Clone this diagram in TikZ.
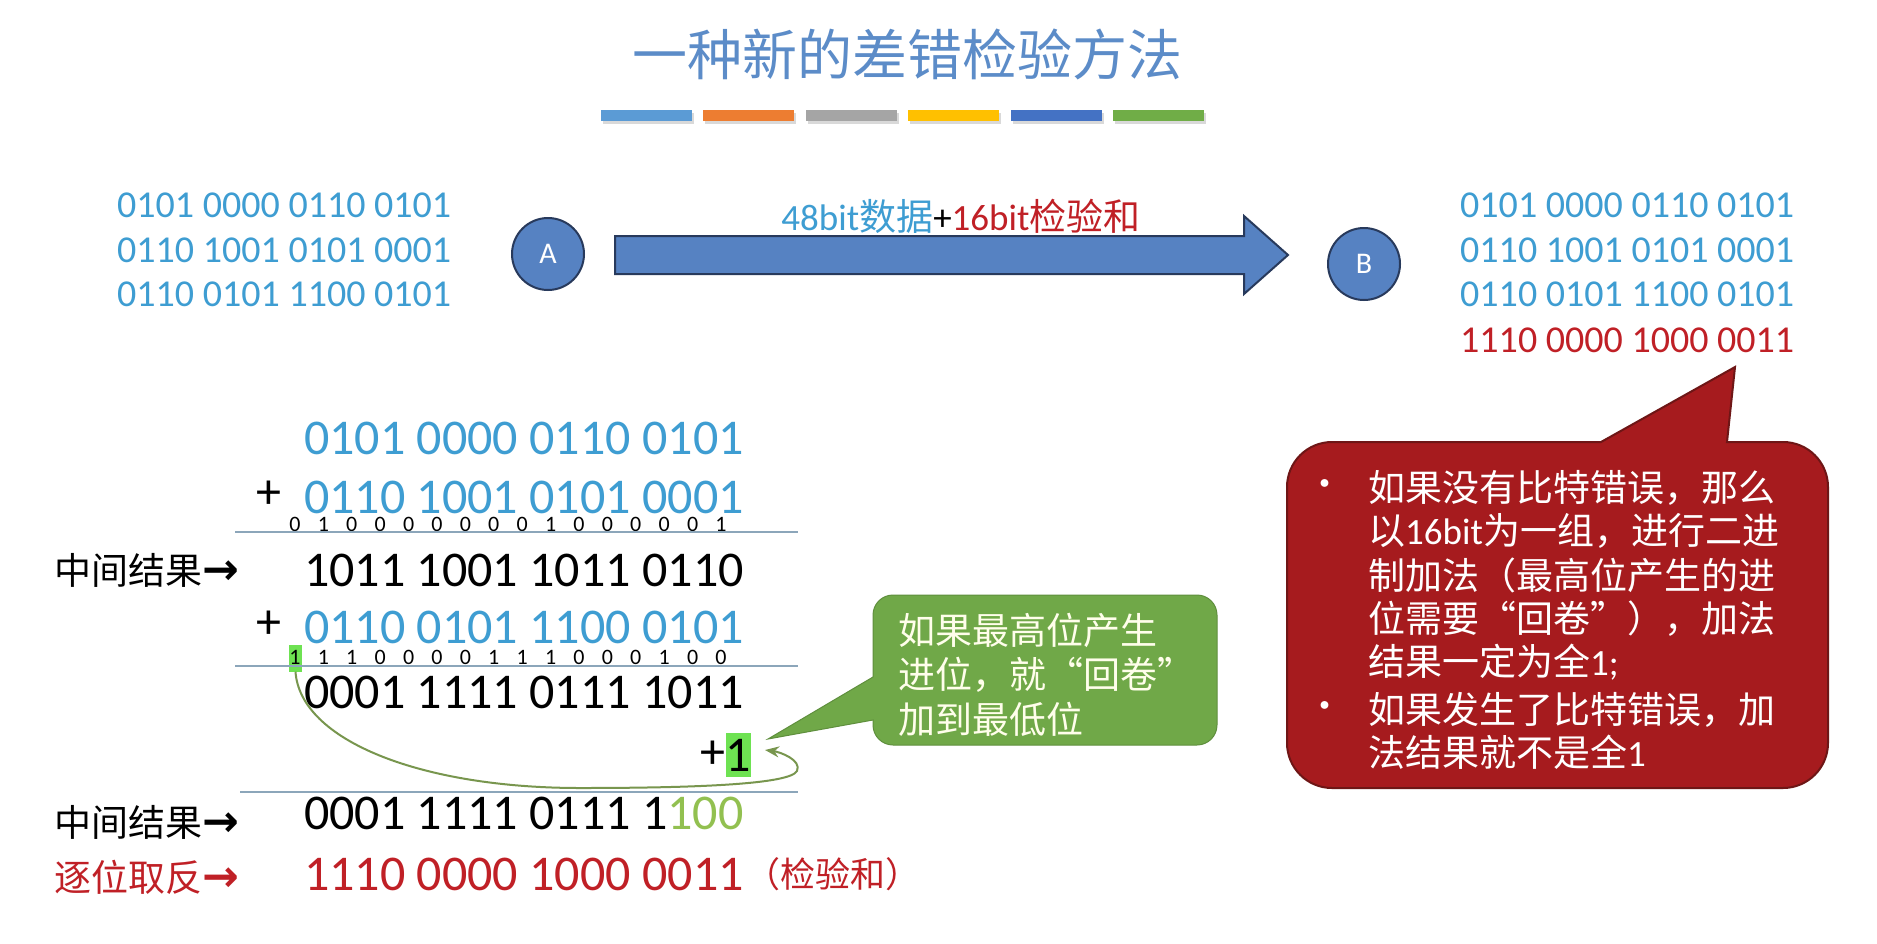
\documentclass[tikz,border=0pt]{standalone}
\usepackage{fontspec}
\setmainfont{Noto Sans CJK SC}
\newfontfamily\bitfont{Carlito}
\newfontfamily\arrowfnt{DejaVu Sans}
\usetikzlibrary{arrows.meta,positioning,calc}

\definecolor{titleblue}{RGB}{92,140,200}
\definecolor{bitblue}{RGB}{62,157,210}
\definecolor{chkred}{RGB}{192,32,38}
\definecolor{nodeblue}{RGB}{86,130,194}
\definecolor{navy}{RGB}{40,58,92}
\definecolor{callred}{RGB}{166,27,30}
\definecolor{callredline}{RGB}{110,22,22}
\definecolor{callgreen}{RGB}{112,168,72}
\definecolor{hilite}{RGB}{110,226,82}
\definecolor{lightgreen}{RGB}{146,192,80}
\definecolor{wrapgreen}{RGB}{120,150,78}
\definecolor{rule}{RGB}{140,166,186}
\definecolor{barA}{RGB}{91,155,213}
\definecolor{barB}{RGB}{237,125,49}
\definecolor{barC}{RGB}{165,165,165}
\definecolor{barD}{RGB}{255,192,0}
\definecolor{barE}{RGB}{68,114,196}
\definecolor{barF}{RGB}{112,173,71}

\newcommand\sizetitle{\fontsize{55}{60}\selectfont}
\newcommand\sizedata{\fontsize{38}{44}\selectfont}
\newcommand\sizecalc{\fontsize{50}{56}\selectfont}
\newcommand\sizecarry{\fontsize{22}{24}\selectfont}
\newcommand\sizetext{\fontsize{37}{44}\selectfont}
\newcommand\rarr{{\arrowfnt\bfseries\fontsize{44}{44}\selectfont →}}

\begin{document}
\begin{tikzpicture}[x=1pt, y=-1pt,
  bitrow/.style={font=\bitfont\sizedata, text=bitblue, inner sep=0pt, anchor=west},
  sumrow/.style={font=\bitfont\sizecalc, inner sep=0pt, anchor=west},
  carrybit/.style={font=\bitfont\sizecarry, inner sep=0pt},
  host/.style={circle, draw=navy, line width=2pt, fill=nodeblue, minimum size=72pt,
               inner sep=0pt, text=white, font=\bitfont\fontsize{30}{32}\selectfont},
  rowlabel/.style={font=\sizetext, inner sep=0pt, anchor=west},
  sumrule/.style={draw=rule, line width=1.5pt},
  bubbletext/.style={font=\sizetext, inner sep=0pt, anchor=west},
  bigarrow/.style={fill=nodeblue, draw=navy, line width=2pt},
  wraparrow/.style={draw=wrapgreen, line width=2pt, -{Stealth[length=14pt,width=11pt]}}]
  \useasboundingbox (0,0) rectangle (1877,943);
  \fill[white] (0,0) rectangle (1877,943);

  % title and colour bars
  \node[font=\sizetitle, text=titleblue] (title) at (907,54) {一种新的差错检验方法};
  \foreach \c [count=\i from 0] in {barA,barB,barC,barD,barE,barF} {
    \fill[black!15] (603+\i*102.4,113) rectangle ++(91,11);
    \fill[\c] (601+\i*102.4,110) rectangle ++(91,11);
  }

  % sender side
  \node[bitrow] (a1) at (117,205) {0101 0000 0110 0101};
  \node[bitrow] (a2) at (117,250) {0110 1001 0101 0001};
  \node[bitrow] (a3) at (117,294) {0110 0101 1100 0101};
  \node[host] (A) at (548,254) {A};
  \node[host] (B) at (1364,264) {B};

  % transfer arrow A -> B
  \coordinate (tail) at ($(A.east)+(30,1)$);
  \coordinate (tipx) at ($(B.west)+(-39,0)$);
  \coordinate (tip) at (tipx |- tail);
  \draw[bigarrow] ($(tail)+(0,-19)$) -- ($(tip)+(-44,-19)$) -- ($(tip)+(-44,-39)$)
    -- (tip) -- ($(tip)+(-44,39)$) -- ($(tip)+(-44,19)$) -- ($(tail)+(0,19)$) -- cycle;
  \node[font=\sizetext, inner sep=0pt] (linklabel) at (961,216)
    {{\bitfont\color{bitblue}48bit}{\color{bitblue}数据}{\bitfont +}{\bitfont\color{chkred}16bit}{\color{chkred}检验和}};

  % receiver side
  \node[bitrow] (b1) at (1460,205) {0101 0000 0110 0101};
  \node[bitrow] (b2) at (1460,250) {0110 1001 0101 0001};
  \node[bitrow] (b3) at (1460,294) {0110 0101 1100 0101};
  \node[bitrow, text=chkred] (b4) at (1460,340) {1110 0000 1000 0011};

  % red callout
  \path[fill=callred, draw=callredline, line width=2pt] (1601,442) -- (1735,367) -- (1727,442)
    -- (1783,442) arc[start angle=-90, end angle=0, radius=45]
    -- (1828,743) arc[start angle=0, end angle=90, radius=45]
    -- (1332,788) arc[start angle=90, end angle=180, radius=45]
    -- (1287,487) arc[start angle=180, end angle=270, radius=45] -- cycle;
  \node[bubbletext, text=white, anchor=center] (dot1) at (1325,488) {•};
  \node[bubbletext, text=white, anchor=center] (dot2) at (1325,710) {•};
  \foreach \txt/\yy [count=\i] in {{如果没有比特错误，那么}/488,
      {以{\bitfont 16bit}为一组，进行二进}/531,
      {制加法（最高位产生的进}/575,
      {位需要“回卷”），加法}/619,
      {结果一定为全{\bitfont 1;}}/662,
      {如果发生了比特错误，加}/710,
      {法结果就不是全{\bitfont 1}}/752}
    \node[bubbletext, text=white] (red-\i) at (1368,\yy) {\txt};

  % green callout
  \path[fill=callgreen, draw=callgreen!85!black, line width=1pt] (873,677) -- (768,739) -- (873,720)
    -- (873,725) arc[start angle=180, end angle=90, radius=20]
    -- (1197,745) arc[start angle=90, end angle=0, radius=20]
    -- (1217,615) arc[start angle=0, end angle=-90, radius=20]
    -- (893,595) arc[start angle=-90, end angle=-180, radius=20] -- cycle;
  \node[bubbletext, text=white!92!yellow] (grn-1) at (898,630) {如果最高位产生};
  \node[bubbletext, text=white!92!yellow] (grn-2) at (898,675) {进位，就“回卷”};
  \node[bubbletext, text=white!92!yellow] (grn-3) at (898,719) {加到最低位};

  % first addition
  \node[sumrow, text=bitblue] (r1) at (304,438) {0101 0000 0110 0101};
  \node[sumrow] (p1) at (256,495) {+};
  \node[sumrow, text=bitblue] (r2) at (304,497) {0110 1001 0101 0001};
  \foreach \b [count=\i from 0] in {0,1,0,0,0,0,0,0,0,1,0,0,0,0,0,1}
    \node[carrybit] (ka-\i) at (295+\i*28.4,524) {\b};
  \draw[sumrule] (235,532) -- (798,532);
  \node[rowlabel] (l1) at (54,570) {中间结果\rarr};
  \node[sumrow] (r3) at (304,570) {1011 1001 1011 0110};

  % second addition
  \node[sumrow] (p2) at (256,625) {+};
  \node[sumrow, text=bitblue] (r4) at (304,627) {0110 0101 1100 0101};
  \node[fill=hilite, minimum width=13pt, minimum height=27pt, inner sep=0pt] (carryout) at (295.5,658) {};
  \foreach \b [count=\i from 0] in {1,1,1,0,0,0,0,1,1,1,0,0,0,1,0,0}
    \node[carrybit] (kb-\i) at (295+\i*28.4,657) {\b};
  \draw[sumrule] (235,666) -- (798,666);
  \node[sumrow] (r5) at (304,692) {0001 1111 0111 1011};

  % wrap-around carry
  \node[sumrow] (plus3) at (700,755) {+};
  \node[sumrow, fill=hilite, minimum height=44pt, anchor=west] (one) at (plus3.east) {1};
  \coordinate (wraptip) at ($(one.east)+(14,-5)$);
  \draw[wraparrow] (carryout.south) .. controls (300,740) and (420,788) .. (580,788)
    .. controls (700,788) and (790,784) .. (797,771)
    .. controls (802,760) and (780,752) .. (wraptip);
  \draw[sumrule] (240,792) -- (798,792);

  % result and checksum
  \node[rowlabel] (l2) at (54,822) {中间结果\rarr};
  \node[sumrow] (r6) at (304,813) {0001 1111 0111 1\textcolor{lightgreen}{100}};
  \node[rowlabel, text=chkred] (l3) at (54,877) {逐位取反\rarr};
  \node[sumrow, text=chkred] (r7) at (304,874) {1110 0000 1000 0011};
  \node[rowlabel, text=chkred, font=\fontsize{35}{40}\selectfont, right=2pt of r7] (chk) {（检验和）};
\end{tikzpicture}
\end{document}
